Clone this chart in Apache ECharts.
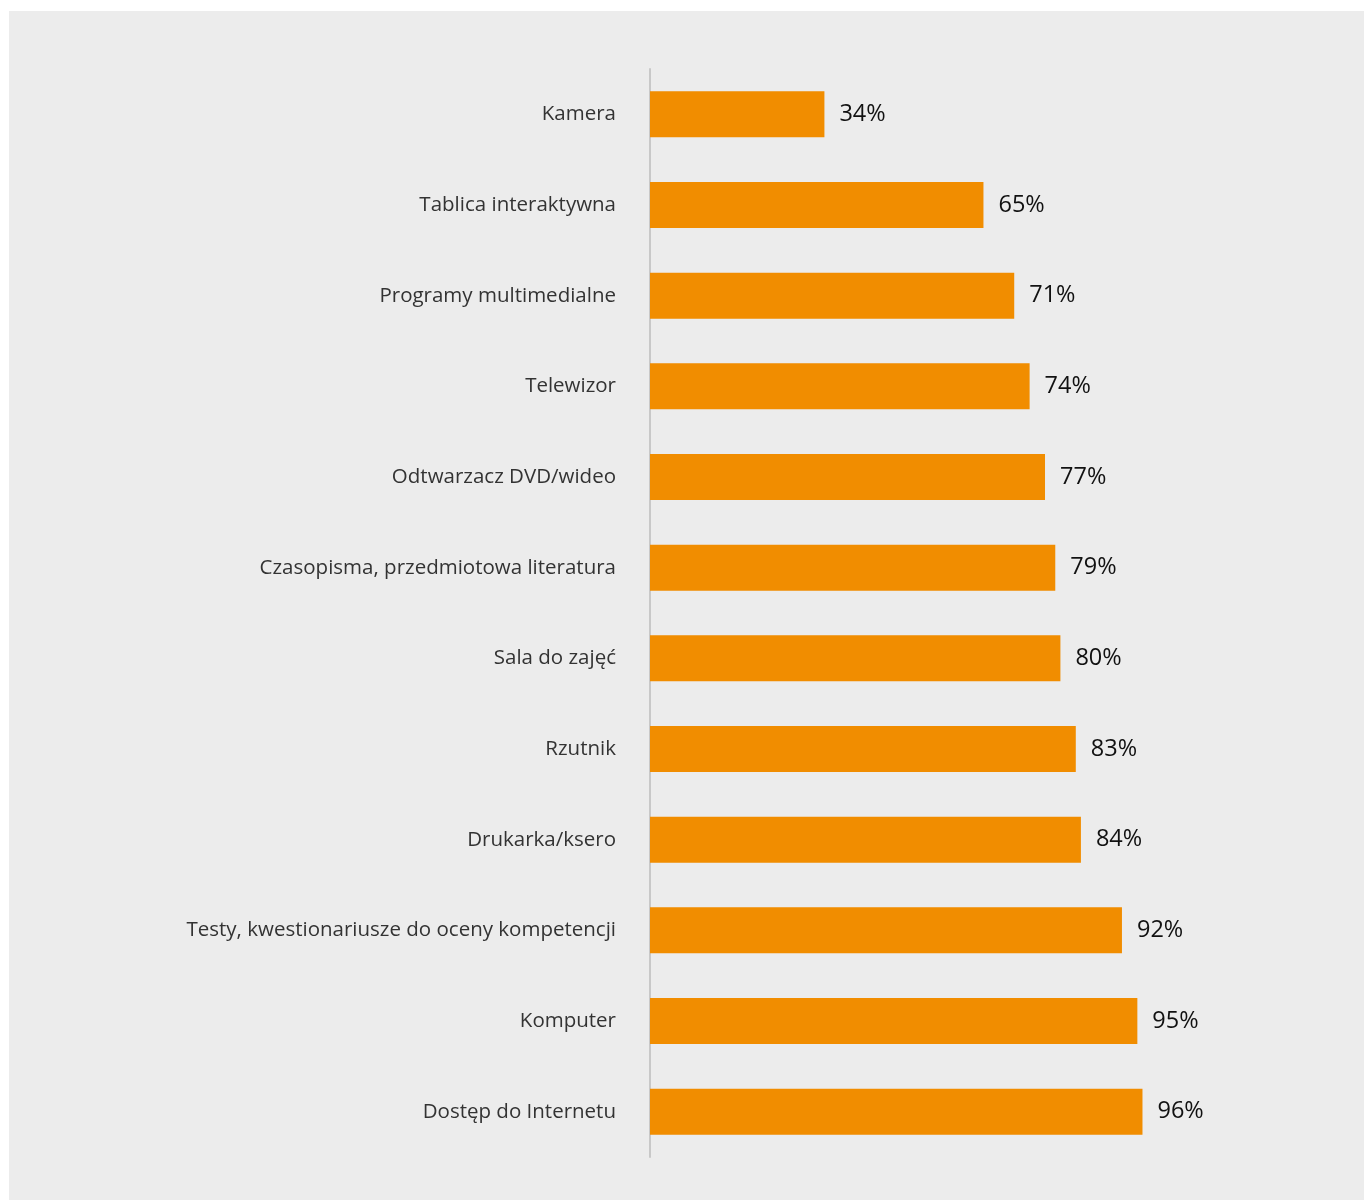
<!DOCTYPE html>
<html>
<head>
<meta charset="utf-8">
<script src="https://cdn.jsdelivr.net/npm/echarts@6/dist/echarts.min.js"></script>
<style>
html,body{margin:0;padding:0;background:#ffffff;}
#chart{width:1364px;height:1200px;}
</style>
</head>
<body>
<div id="chart"></div>
<script>
const categories = [
  "Kamera",
  "Tablica interaktywna",
  "Programy multimedialne",
  "Telewizor",
  "Odtwarzacz DVD/wideo",
  "Czasopisma, przedmiotowa literatura",
  "Sala do zajęć",
  "Rzutnik",
  "Drukarka/ksero",
  "Testy, kwestionariusze do oceny kompetencji",
  "Komputer",
  "Dostęp do Internetu"
];
const values = [34, 65, 71, 74, 77, 79, 80, 83, 84, 92, 95, 96];

const chart = echarts.init(document.getElementById('chart'));
chart.setOption({
  backgroundColor: '#ffffff',
  animation: false,
  graphic: [{
    type: 'rect',
    left: 9, top: 11,
    shape: {width: 1355, height: 1189},
    style: {fill: '#ececec'},
    z: -10
  }],
  grid: {left: 650, top: 69, width: 513, bottom: 43, containLabel: false},
  xAxis: {
    type: 'value', min: 0, max: 100,
    show: false
  },
  yAxis: {
    type: 'category',
    data: categories,
    inverse: true,
    axisLine: {show: true, lineStyle: {color: '#c8c8c8', width: 2}},
    axisTick: {show: false},
    axisLabel: {
      margin: 34,
      color: '#333333',
      fontSize: 20.5,
      fontFamily: 'Open Sans'
    }
  },
  series: [{
    type: 'bar',
    data: values,
    barWidth: 46,
    itemStyle: {color: '#f18d00'},
    label: {
      show: true,
      position: 'right',
      distance: 15,
      formatter: '{c}%',
      color: '#111111',
      fontSize: 23.5,
      fontFamily: 'Open Sans'
    }
  }]
});
</script>
</body>
</html>
